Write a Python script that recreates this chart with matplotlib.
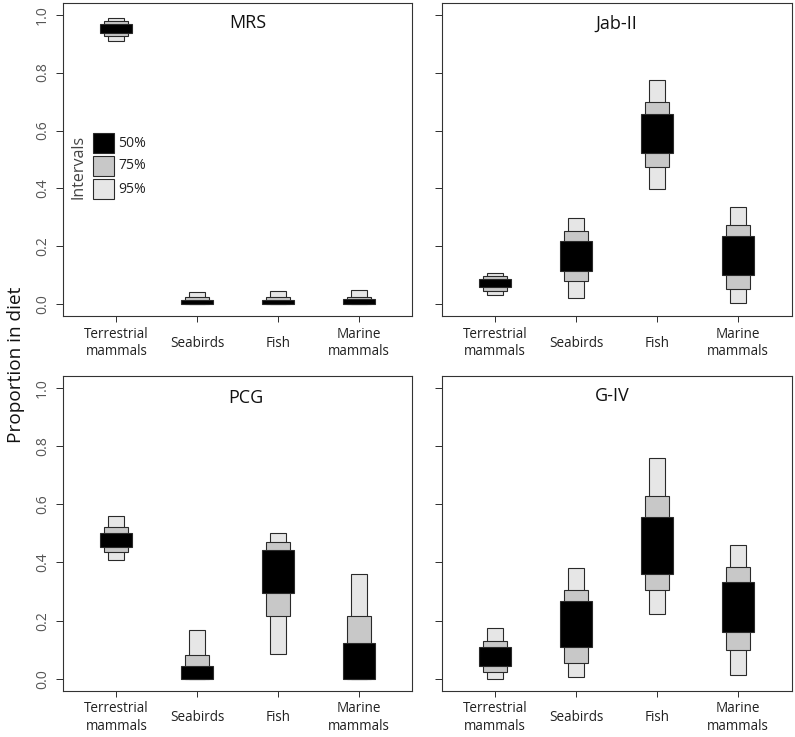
import matplotlib
matplotlib.use("Agg")
import matplotlib.pyplot as plt
from matplotlib.patches import Rectangle

plt.rcParams['font.family'] = ['Open Sans', 'DejaVu Sans']

# === Datos: intervalos de credibilidad (proporcion en la dieta) ===
categories = ["Terrestrial\nmammals", "Seabirds", "Fish", "Marine\nmammals"]
panels = ["MRS", "Jab-II", "PCG", "G-IV"]

# (lo, hi) por categoria para cada intervalo
mrs_95 = [(0.908, 0.987), (0.0, 0.044), (0.0, 0.046), (0.0, 0.048)]
mrs_75 = [(0.925, 0.977), (0.0, 0.024), (0.0, 0.025), (0.0, 0.027)]
mrs_50 = [(0.937, 0.968), (0.0, 0.015), (0.0, 0.016), (0.0, 0.017)]

jab_95 = [(0.032, 0.110), (0.021, 0.297), (0.398, 0.773), (0.006, 0.336)]
jab_75 = [(0.046, 0.097), (0.081, 0.253), (0.473, 0.699), (0.052, 0.275)]
jab_50 = [(0.059, 0.086), (0.116, 0.220), (0.522, 0.656), (0.100, 0.236)]

pcg_95 = [(0.407, 0.561), (0.0, 0.170), (0.087, 0.500), (0.0, 0.360)]
pcg_75 = [(0.437, 0.521), (0.0, 0.083), (0.215, 0.469), (0.0, 0.215)]
pcg_50 = [(0.454, 0.502), (0.0, 0.045), (0.294, 0.442), (0.0, 0.124)]

g4_95 = [(0.001, 0.175), (0.007, 0.380), (0.222, 0.760), (0.015, 0.461)]
g4_75 = [(0.023, 0.130), (0.054, 0.307), (0.305, 0.628), (0.098, 0.384)]
g4_50 = [(0.045, 0.111), (0.110, 0.267), (0.362, 0.557), (0.162, 0.332)]

data = {
    "MRS": (mrs_95, mrs_75, mrs_50),
    "Jab-II": (jab_95, jab_75, jab_50),
    "PCG": (pcg_95, pcg_75, pcg_50),
    "G-IV": (g4_95, g4_75, g4_50),
}

# === Estilo ===
fills = ["#e6e6e6", "#c8c8c8", "#000000"]
widths = [0.2, 0.3, 0.4]
edge = "#2a2a2a"

W, H = 795, 737
fig = plt.figure(figsize=(W / 72, H / 72), dpi=72)

boxes = {
    "MRS": (63, 3, 412, 316),
    "Jab-II": (441.7, 3, 791.7, 316),
    "PCG": (63, 376, 412, 690.7),
    "G-IV": (441.7, 376, 791.7, 690.7),
}
title_x = {"MRS": 2.63, "Jab-II": 2.5, "PCG": 2.6, "G-IV": 2.45}

x = [1, 2, 3, 4]
for name in panels:
    x0, y0, x1, y1 = boxes[name]
    ax = fig.add_axes([x0 / W, 1 - y1 / H, (x1 - x0) / W, (y1 - y0) / H])
    for ints, fc, w in zip(data[name], fills, widths):
        lo = [a for a, b in ints]
        hi = [b for a, b in ints]
        ax.bar(x, [h - l for l, h in zip(lo, hi)], bottom=lo, width=w,
               color=fc, edgecolor=edge, linewidth=1.1, zorder=2)
    ax.set_xlim(0.34, 4.66)
    ax.set_ylim(-0.04, 1.04)
    ax.set_yticks([0.0, 0.2, 0.4, 0.6, 0.8, 1.0])
    ax.set_xticks(x)
    ax.set_xticklabels(categories, fontsize=13.5, color="#222222", linespacing=1.25)
    for lbl in ax.get_xticklabels():
        lbl.set_verticalalignment("center")
    ax.tick_params(axis="x", length=6, width=1, pad=21, colors="#333333",
                   labelcolor="#222222")
    ax.tick_params(axis="y", length=7, width=1, pad=6, colors="#333333",
                   labelcolor="#555555")
    if name in ("MRS", "PCG"):
        ax.set_yticklabels(["0.0", "0.2", "0.4", "0.6", "0.8", "1.0"],
                           fontsize=14, rotation=90, va="center")
    else:
        ax.set_yticklabels([])
    for s in ax.spines.values():
        s.set_linewidth(1.1)
        s.set_color("#333333")
    ax.text(title_x[name], 0.935 if name != "PCG" else 0.93, name,
            transform=ax.get_xaxis_transform(), ha="center", va="center",
            fontsize=18, color="#111111")

    if name == "MRS":
        # leyenda de intervalos
        for fc, yb, lab in zip(fills[::-1], [0.520, 0.448, 0.373],
                               ["50%", "75%", "95%"]):
            ax.add_patch(Rectangle((0.087, yb), 0.059, 0.064, transform=ax.transAxes,
                                   facecolor=fc, edgecolor=edge, linewidth=1.1))
            ax.text(0.158, yb + 0.032, lab, transform=ax.transAxes,
                    ha="left", va="center", fontsize=14, color="#222222")
        ax.text(0.045, 0.476, "Intervals", transform=ax.transAxes, rotation=90,
                ha="center", va="center", fontsize=16, color="#444444")

fig.text(16 / W, 0.505, "Proportion in diet", rotation=90, ha="center",
         va="center", fontsize=19, color="#111111")

fig.savefig("out.png", dpi=72)
